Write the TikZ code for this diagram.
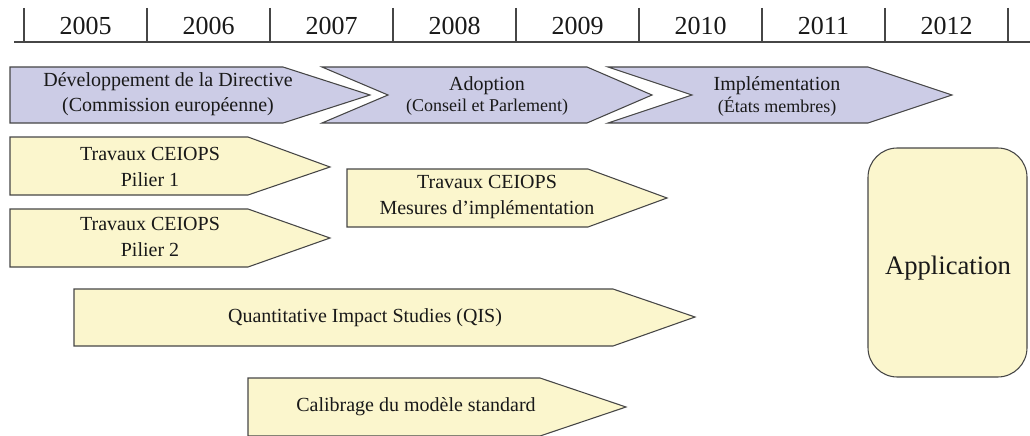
\documentclass[tikz,border=0pt]{standalone}
\usepackage{fontspec}
\setmainfont{Liberation Serif}
\newfontfamily\timesface{Liberation Serif}
\usepackage{tikz}

\definecolor{phasefill}{RGB}{204,204,230}
\definecolor{taskfill}{RGB}{251,246,205}
\definecolor{edgegray}{RGB}{70,70,70}

\begin{document}
\begin{tikzpicture}[x=0.75pt,y=-0.75pt,
	phase/.style={draw=edgegray,fill=phasefill,line width=0.8pt,line join=miter},
	task/.style={draw=edgegray,fill=taskfill,line width=0.8pt,line join=miter},
	txt/.style={font=\timesface\fontsize{15}{19}\selectfont,align=center,inner sep=0pt,text=black!90},
	subtxt/.style={font=\timesface\fontsize{13.5}{16}\selectfont,inner sep=0pt,text=black!90},
	yearlbl/.style={font=\timesface\fontsize{19.5}{22}\selectfont,inner sep=0pt,text=black!90}]
	
	\useasboundingbox (0,0) rectangle (1030,435);
	
	% years
	\draw[edgegray,line width=0.8pt] (14,42) -- (1030,42);
	\foreach \k in {0,...,8}
		\draw[edgegray,line width=0.8pt] (24+123*\k,8) -- (24+123*\k,42);
	\foreach \yr [count=\i from 0] in {2005,2006,2007,2008,2009,2010,2011,2012}
		\node[yearlbl] (y\yr) at (85.5+123*\i,26) {\yr};
	
	% phases
	\draw[phase] (10,67) -- (283,67) -- (370,95) -- (283,123) -- (10,123) -- cycle;
	\draw[phase] (322,67) -- (587,67) -- (652,95) -- (587,123) -- (322,123) -- (388,95) -- cycle;
	\draw[phase] (608,67) -- (868,67) -- (952,95) -- (868,123) -- (608,123) -- (692,95) -- cycle;
	
	\node[txt] (dev) at (168,94) {Développement de la Directive\\(Commission européenne)};
	\node[txt] (adopt) at (487,86) {Adoption};
	\node[subtxt] (adoptsub) at (487,107) {(Conseil et Parlement)};
	\node[txt] (impl) at (777,86) {Implémentation};
	\node[subtxt] (implsub) at (777,107) {(États membres)};
	
	% CEIOPS work
	\draw[task] (10,137) -- (248,137) -- (330,167) -- (248,195) -- (10,195) -- cycle;
	\draw[task] (10,209) -- (248,209) -- (330,238) -- (248,267) -- (10,267) -- cycle;
	\draw[task] (347,169) -- (588,169) -- (667,198) -- (588,227) -- (347,227) -- cycle;
	\draw[task] (74,289) -- (613,289) -- (695,317) -- (613,346) -- (74,346) -- cycle;
	\draw[task] (248,378) -- (540,378) -- (626,407) -- (540,436) -- (248,436) -- cycle;
	\draw[task,rounded corners=22pt] (868,148) rectangle (1027,377);
	
	\node[txt] (pil1) at (150,167) {Travaux CEIOPS\\Pilier 1};
	\node[txt] (pil2) at (150,237) {Travaux CEIOPS\\Pilier 2};
	\node[txt] (mes) at (487,197) {Travaux CEIOPS\\Mesures d’implémentation};
	\node[txt] (qis) at (365,318) {Quantitative Impact Studies (QIS)};
	\node[txt] (calib) at (416,407) {Calibrage du modèle standard};
	\node[txt,font=\timesface\fontsize{20}{24}\selectfont] (app) at (948,268) {Application};
	
\end{tikzpicture}
\end{document}
